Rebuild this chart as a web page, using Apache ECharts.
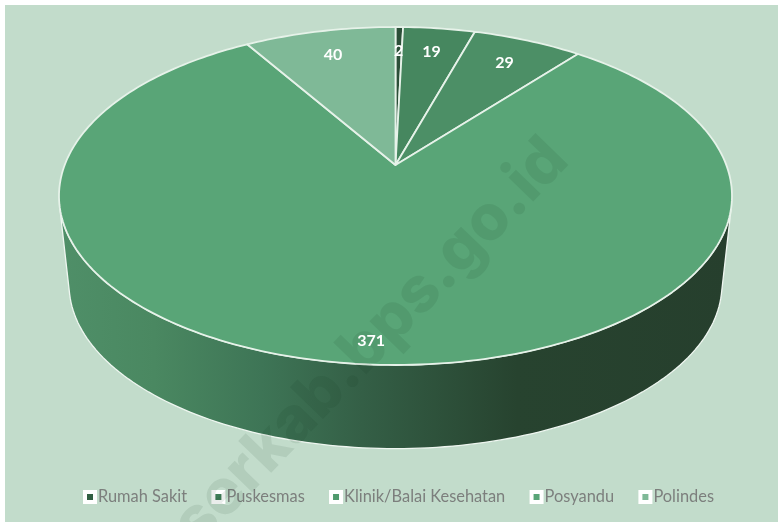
<!DOCTYPE html>
<html><head><meta charset="utf-8">
<style>html,body{margin:0;padding:0;background:#fff}#c{width:778px;height:522px}</style>
<script src="https://cdn.jsdelivr.net/npm/echarts@6/dist/echarts.min.js"></script>
</head><body><div id="c"></div>
<script>
const categories = ['Rumah Sakit','Puskesmas','Klinik/Balai Kesehatan','Posyandu','Polindes'];
const values = [2,19,29,371,40];
const sliceColors = ['#2b4f38','#46875f','#4c8f66','#59a577','#7fb997'];
const legendColors = ['#315f43','#3f7d57','#4f9a6d','#59a577','#7fb997'];

const cx = 395.5, apexY = 165, K = 0.1834, A = 330.8, B = 163.3;
const ellipseCY = 196, ellipseA = 336.5, ellipseB = 169;
const baseCY = 284.7, baseScale = 0.97;
const labelRadii = [0.8,0.8,0.8,0.9,0.8];
const total = values.reduce((a,b)=>a+b,0);

function proj(theta, r){
  const u = r*Math.sin(theta), v = -r*Math.cos(theta), d = 1 - K*v;
  return [cx + A*u/d, apexY + B*v/d];
}
function startAngle(i){
  let s = 0; for (let j=0;j<i;j++) s += values[j];
  return s/total*Math.PI*2;
}
function chartWall(params, api){
  const pts = [];
  const tan = Math.asin((1-baseScale)/((baseCY-ellipseCY)/ellipseB));
  const n = 120;
  for (let i=0;i<=n;i++){
    const t = tan + (Math.PI-2*tan)*i/n;
    pts.push([cx+ellipseA*Math.cos(t), ellipseCY+ellipseB*Math.sin(t)]);
  }
  for (let i=n;i>=0;i--){
    const t = tan + (Math.PI-2*tan)*i/n;
    pts.push([cx+baseScale*ellipseA*Math.cos(t), baseCY+baseScale*ellipseB*Math.sin(t)]);
  }
  return {type:'polygon', shape:{points:pts}, style:{
    fill:new echarts.graphic.LinearGradient(60,0,732,0,[
      {offset:0,color:'#4f8f68'},{offset:0.14,color:'#4a8861'},{offset:0.3,color:'#3e7556'},
      {offset:0.45,color:'#345f46'},{offset:0.68,color:'#27432f'},{offset:1,color:'#263f2d'}],true),
    stroke:'#eef6f0', lineWidth:1.3}};
}
function renderSlice(i){
  return function(params, api){
    const s = startAngle(i), sweep = api.value(0)/total*Math.PI*2;
    const pts = [[cx,apexY]];
    const n = Math.max(2, Math.ceil(sweep/0.02));
    for (let k=0;k<=n;k++) pts.push(proj(s+sweep*k/n,1));
    return {type:'polygon', shape:{points:pts}, style:{fill:sliceColors[i], stroke:'#e6f2e9', lineWidth:1.8, lineJoin:'round'}};
  };
}
function renderLabel(params, api){
  const i = params.dataIndex, s = startAngle(i), sweep = api.value(0)/total*Math.PI*2;
  const p = proj(s+sweep/2, labelRadii[i]);
  return {type:'text', style:{x:p[0], y:p[1], text:String(api.value(0)), fill:'#ffffff',
    font:'bold 16px Lato, sans-serif', align:'center', verticalAlign:'middle'}};
}
const series = [{type:'custom', name:'wall', coordinateSystem:'none', z:2, silent:true, data:[[0]], renderItem:chartWall}];
categories.forEach((c,i)=>series.push({type:'custom', name:c, coordinateSystem:'none', z:3, silent:true,
  itemStyle:{color:legendColors[i]}, data:[[values[i]]], renderItem:renderSlice(i)}));
series.push({type:'custom', name:'labels', coordinateSystem:'none', z:6, silent:true,
  data:values.map(v=>[v]), renderItem:renderLabel});

const chart = echarts.init(document.getElementById('c'),null,{renderer:'canvas'});
chart.setOption({
  animation:false, backgroundColor:'#ffffff',
  legend:{data:categories, selectedMode:false, left:83, top:489, itemWidth:10, itemHeight:10, itemGap:24.3, icon:'rect',
    itemStyle:{borderColor:'#ffffff',borderWidth:4},
    textStyle:{color:'#7c7f7d',fontSize:16.4,fontFamily:'Lato, sans-serif',padding:[0,0,0,-2]}, padding:0},
  graphic:[
    {type:'rect', z:-10, silent:true, shape:{x:5,y:5,width:773,height:517}, style:{fill:'#c2dccb'}},
    {type:'text', z:5, silent:true, x:344, y:370, rotation:Math.PI/180*46, originX:0, originY:0,
      style:{text:'paserkab.bps.go.id', fill:'rgba(10,50,25,0.085)', font:'800 63px "Inter", sans-serif', align:'center', verticalAlign:'middle'}}
  ],
  series
});
</script></body></html>
